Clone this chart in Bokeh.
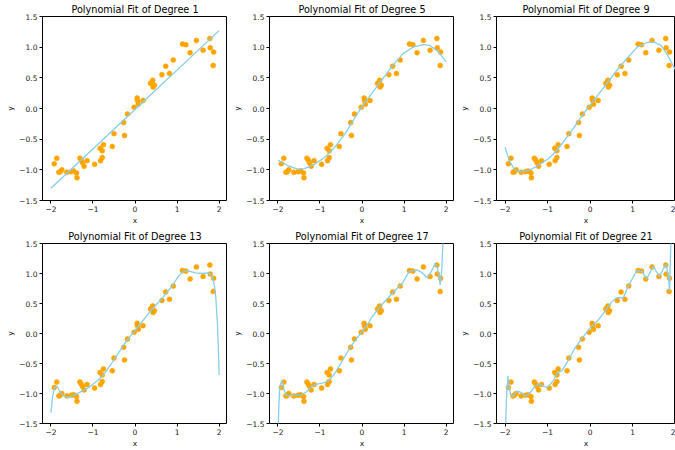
import numpy as np
from bokeh.plotting import figure
from bokeh.layouts import column, row
from bokeh.models import FixedTicker, Range1d
from bokeh.embed import file_html
from bokeh.resources import INLINE

degrees = [1, 5, 9, 13, 17, 21]

x_pts = [-1.92, -1.86, -1.81, -1.78, -1.74, -1.62, -1.52, -1.46, -1.39, -1.38,
         -1.31, -1.28, -1.25, -1.21, -1.14, -0.96, -0.83, -0.82, -0.78, -0.78,
         -0.75, -0.54, -0.50, -0.27, -0.25, -0.18, -0.02, 0.05, 0.06, 0.08,
         0.19, 0.37, 0.40, 0.42, 0.43, 0.46, 0.64, 0.73, 0.82, 0.91,
         1.13, 1.21, 1.31, 1.46, 1.62, 1.78, 1.79, 1.86, 1.87]
y_pts = [-0.90, -0.81, -1.04, -1.03, -1.00, -1.04, -1.03, -1.02, -1.05, -1.13,
         -0.81, -0.84, -0.88, -0.94, -0.85, -0.91, -0.65, -0.85, -0.80, -0.69,
         -0.59, -0.62, -0.41, -0.23, -0.44, -0.09, 0.02, 0.17, 0.13, 0.07,
         0.13, 0.41, 0.42, 0.46, 0.35, 0.38, 0.55, 0.69, 0.57, 0.79,
         1.05, 1.04, 0.91, 1.11, 0.95, 1.14, 0.99, 0.70, 0.92]

fit1_x = [-2.0, 0.0, 2.0]
fit1_y = [-1.30, -0.015, 1.27]

fit5_x = [-2.0, -1.77, -1.53, -1.37, -1.13, -0.89, -0.645, -0.40, -0.16, 0.0,
          0.24, 0.48, 0.73, 0.97, 1.21, 1.45, 1.61, 1.81, 2.0]
fit5_y = [-0.84, -0.93, -0.99, -0.98, -0.91, -0.80, -0.63, -0.41, -0.14, 0.03,
          0.25, 0.475, 0.70, 0.89, 1.00, 1.04, 1.03, 0.93, 0.76]

fit9_x = [-2.0, -1.90, -1.78, -1.66, -1.54, -1.38, -1.18, -0.98, -0.78, -0.58,
          -0.38, -0.18, 0.0, 0.22, 0.43, 0.63, 0.87, 1.11, 1.35, 1.51,
          1.67, 1.83, 2.0]
fit9_y = [-0.63, -0.85, -0.99, -1.03, -1.03, -0.99, -0.91, -0.82, -0.685, -0.50,
          -0.31, -0.11, 0.05, 0.25, 0.44, 0.62, 0.82, 1.00, 1.08, 1.08,
          1.03, 0.86, 0.64]

fit13_x = [-2.0, -1.96, -1.92, -1.88, -1.85, -1.80, -1.72, -1.60, -1.48, -1.28,
           -1.08, -0.88, -0.72, -0.56, -0.40, -0.24, -0.08, 0.08, 0.24, 0.40,
           0.56, 0.72, 0.88, 1.04, 1.16, 1.28, 1.44, 1.60, 1.72, 1.80,
           1.85, 1.89, 1.92, 1.96, 1.984, 2.0]
fit13_y = [-1.32, -1.05, -0.92, -0.88, -0.88, -0.95, -1.03, -1.07, -1.04, -0.97,
           -0.89, -0.78, -0.66, -0.50, -0.33, -0.16, -0.02, 0.12, 0.26, 0.40,
           0.52, 0.65, 0.79, 0.96, 1.04, 1.04, 1.01, 1.00, 1.01, 0.99,
           0.93, 0.79, 0.62, 0.17, -0.27, -0.69]

fit17_x = [-2.0, -1.98, -1.96, -1.93, -1.89, -1.85, -1.80, -1.70, -1.60, -1.44,
           -1.32, -1.16, -0.99, -0.90, -0.80, -0.67, -0.505, -0.34, -0.18, 0.0,
           0.15, 0.23, 0.47, 0.72, 0.96, 1.12, 1.30, 1.42, 1.55, 1.65,
           1.74, 1.80, 1.86, 1.90, 1.93, 1.96]
fit17_y = [-1.80, -1.25, -0.95, -0.82, -0.80, -0.95, -1.03, -1.04, -1.03, -1.02,
           -0.97, -0.86, -0.83, -0.82, -0.79, -0.69, -0.50, -0.30, -0.13, 0.03,
           0.17, 0.27, 0.48, 0.67, 0.84, 1.03, 1.06, 1.02, 0.93, 1.03,
           1.17, 1.08, 0.81, 1.10, 1.60, 2.50]

fit21_x = [-2.0, -1.98, -1.96, -1.93, -1.90, -1.87, -1.80, -1.72, -1.62, -1.52,
           -1.40, -1.30, -1.20, -1.08, -1.00, -0.86, -0.77, -0.65, -0.53, -0.37,
           -0.24, -0.12, 0.0, 0.20, 0.37, 0.49, 0.61, 0.70, 0.78, 0.90,
           1.10, 1.22, 1.33, 1.49, 1.63, 1.79, 1.85, 1.87, 1.90, 1.93]
fit21_y = [-2.00, -1.40, -1.00, -0.71, -0.90, -1.02, -1.05, -0.96, -0.98, -1.05,
           -0.98, -0.88, -0.84, -0.88, -0.90, -0.78, -0.66, -0.61, -0.47, -0.26,
           -0.13, -0.02, 0.09, 0.23, 0.39, 0.51, 0.59, 0.60, 0.59, 0.79,
           1.05, 1.04, 0.91, 1.12, 0.95, 1.16, 0.92, 0.71, 1.51, 2.50]

fits = [(fit1_x, fit1_y), (fit5_x, fit5_y), (fit9_x, fit9_y),
        (fit13_x, fit13_y), (fit17_x, fit17_y), (fit21_x, fit21_y)]

x_ticks = [-2, -1, 0, 1, 2]
x_tick_labels = ["\u22122", "\u22121", "0", "1", "2"]
y_ticks = [-1.5, -1.0, -0.5, 0.0, 0.5, 1.0, 1.5]
y_tick_labels = ["\u22121.5", "\u22121.0", "\u22120.5", "0.0", "0.5", "1.0", "1.5"]


def key(t):
    return int(t) if float(t) == int(t) else t


FONT = "DejaVu Sans"
col_widths = [227, 227, 221]
row_heights = [227, 223]
# the right-hand column is cut by the picture edge in the reference
x_limits = [(-2.2, 2.2), (-2.2, 2.2), (-2.2, 2.01)]

plots = []
for i, deg in enumerate(degrees):
    c, r = i % 3, i // 3
    p = figure(width=col_widths[c], height=row_heights[r],
               x_range=Range1d(*x_limits[c]), y_range=Range1d(-1.5, 1.5),
               output_backend="svg", toolbar_location=None,
               min_border_left=42, min_border_right=0,
               min_border_top=0, min_border_bottom=0,
               title=f"Polynomial Fit of Degree {deg}")
    p.title.text_font = FONT
    p.title.text_font_size = "9.7px"
    p.title.text_font_style = "normal"
    p.title.text_color = "black"
    p.title.align = "center"
    p.title.standoff = 3
    p.xgrid.visible = False
    p.ygrid.visible = False
    p.outline_line_color = "black"
    p.outline_line_width = 1
    p.background_fill_color = "white"
    p.border_fill_color = "white"

    p.xaxis.ticker = FixedTicker(ticks=x_ticks, minor_ticks=[])
    p.xaxis.major_label_overrides = {key(t): s for t, s in zip(x_ticks, x_tick_labels)}
    p.yaxis.ticker = FixedTicker(ticks=y_ticks, minor_ticks=[])
    p.yaxis.major_label_overrides = {key(t): s for t, s in zip(y_ticks, y_tick_labels)}
    p.xaxis.axis_label = "x"
    p.yaxis.axis_label = "y"
    for ax in (p.xaxis, p.yaxis):
        ax.axis_line_color = None
        ax.major_tick_in = 0
        ax.major_tick_out = 3
        ax.major_tick_line_color = "black"
        ax.minor_tick_line_color = None
        ax.major_label_text_font = FONT
        ax.major_label_text_font_size = "7.5px"
        ax.major_label_text_color = "#222222"
        ax.major_label_standoff = 2
        ax.axis_label_text_font = FONT
        ax.axis_label_text_font_size = "7.5px"
        ax.axis_label_text_font_style = "normal"
        ax.axis_label_text_color = "#222222"
        ax.axis_label_standoff = 1

    p.scatter(x_pts, y_pts, size=5, fill_color="#FFA500", line_color="#FFA500", line_width=0.5)
    fx, fy = fits[i]
    p.line(fx, fy, line_color="#87CEEB", line_width=1.3)
    plots.append(p)

layout = column(row(*plots[:3]), row(*plots[3:]))
open("out.html", "w").write(file_html(layout, INLINE))
